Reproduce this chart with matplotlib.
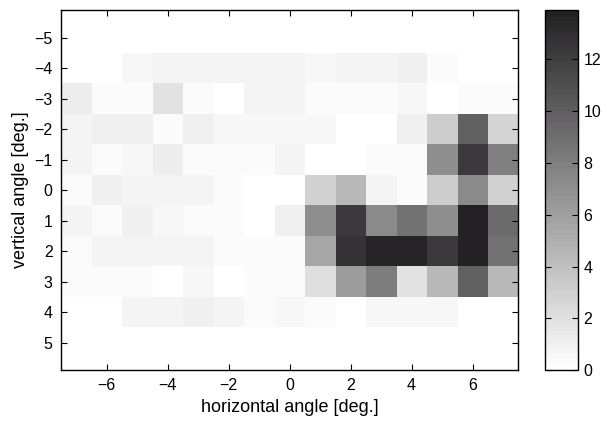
import numpy as np
import matplotlib.pyplot as plt
from matplotlib.colors import LinearSegmentedColormap

plt.rcParams['font.family'] = ['Liberation Sans', 'DejaVu Sans']

# horizontal / vertical angle bins [deg.]
h_angles = list(range(-7, 8))
v_angles = list(range(-6, 7))

# one row of values per vertical angle (left to right = -7..7)
row_m6 = [0] * 15
row_m5 = [0] * 15
row_m4 = [0, 0, 0.44, 0.76, 0.76, 0.76, 0.76, 0.76, 0.44, 0.76, 0.76, 1.07, 0.32, 0, 0]
row_m3 = [1.26, 0.32, 0.32, 1.9, 0.38, 0, 0.76, 0.7, 0.38, 0.25, 0.25, 0.63, 0.13, 0.38, 0.38]
row_m2 = [0.7, 1.07, 1.07, 0.32, 1.07, 0.5, 0.5, 0.44, 0.44, 0, 0, 0.95, 3.2, 9.8, 2.65]
row_m1 = [0.7, 0.38, 0.63, 1.2, 0.38, 0.25, 0.25, 0.76, 0.19, 0.19, 0.38, 0.38, 7.0, 12.3, 7.9]
row_0 = [0.38, 0.95, 0.7, 0.7, 0.7, 0.38, 0.19, 0.19, 3.0, 4.4, 0.76, 0.32, 3.2, 7.3, 3.0]
row_1 = [0.7, 0.38, 0.95, 0.57, 0.32, 0.32, 0, 0.95, 7.0, 12.2, 7.3, 8.7, 7.1, 13.7, 9.2]
row_2 = [0.25, 0.7, 0.7, 0.7, 0.7, 0.32, 0.32, 0.32, 5.5, 12.6, 13.6, 13.5, 12.2, 13.9, 8.7]
row_3 = [0.25, 0.38, 0.38, 0.19, 0.63, 0.19, 0.32, 0.32, 2.1, 6.1, 8.2, 1.9, 4.55, 9.8, 4.4]
row_4 = [0, 0, 0.7, 0.7, 0.95, 0.7, 0.38, 0.57, 0.32, 0.19, 0.63, 0.63, 0.63, 0, 0]
row_5 = [0] * 15
row_6 = [0] * 15

grid = np.array([row_m6, row_m5, row_m4, row_m3, row_m2, row_m1, row_0,
                 row_1, row_2, row_3, row_4, row_5, row_6])

cmap = LinearSegmentedColormap.from_list('grayish', ['#ffffff', '#232123'], N=64)

fig = plt.figure(figsize=(6.09, 4.23), dpi=100)
ax = fig.add_axes([0.100, 0.125, 0.751, 0.851])
cax = fig.add_axes([0.895, 0.125, 0.054, 0.851])

im = ax.imshow(grid, cmap=cmap, vmin=0, vmax=13.9, aspect='auto',
               interpolation='nearest',
               extent=[h_angles[0] - 0.5, h_angles[-1] + 0.5,
                       v_angles[-1] + 0.5, v_angles[0] - 0.5])
ax.set_xlim(-7.5, 7.5)
ax.set_ylim(5.9, -5.9)
ax.set_xticks(range(-6, 7, 2))
ax.set_yticks(range(-5, 6))
ax.set_xticklabels([str(t).replace('-', '\u2212') for t in range(-6, 7, 2)])
ax.set_yticklabels([str(t).replace('-', '\u2212') for t in range(-5, 6)])
ax.tick_params(direction='in', top=True, right=True, length=4, labelsize=11.5,
               width=0.8, pad=6)
ax.set_xlabel('horizontal angle [deg.]', fontsize=13, labelpad=4)
ax.set_ylabel('vertical angle [deg.]', fontsize=13, labelpad=4)
for s in ax.spines.values():
    s.set_linewidth(1.0)

cb = fig.colorbar(im, cax=cax, ticks=range(0, 13, 2))
cb.ax.tick_params(direction='in', left=True, right=True, length=4,
                  labelsize=11.5, width=0.8, pad=4)
cb.outline.set_linewidth(1.0)

fig.savefig('out.png', dpi=100)
